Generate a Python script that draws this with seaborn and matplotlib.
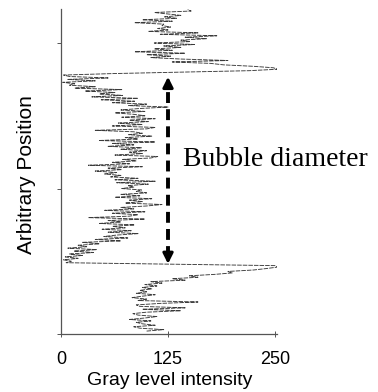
import numpy as np
import pandas as pd
import matplotlib
matplotlib.use("Agg")
import matplotlib.pyplot as plt
import seaborn as sns

# Sample positions along the scan line (arbitrary units), bottom to top
position = np.arange(1.0, 112.0, 0.5)

# Gray level intensity
gray = [
    100, 120, 92, 85, 110, 95, 88, 105, 80, 98,
    112, 90, 84, 100, 140, 95, 145, 92, 88, 115,
    160, 90, 100, 83, 95, 110, 88, 100, 92, 106,
    95, 112, 98, 118, 105, 145, 130, 160, 150, 180,
    200, 195, 225, 240, 253, 250, 125, 6, 12, 3,
    20, 5, 25, 10, 38, 15, 42, 8, 30, 20,
    45, 25, 70, 40, 78, 50, 65, 90, 55, 82,
    48, 75, 60, 86, 45, 70, 55, 98, 32, 80,
    90, 60, 98, 51, 85, 70, 100, 118, 75, 95,
    80, 106, 63, 92, 70, 100, 88, 94, 71, 85,
    78, 102, 65, 110, 63, 90, 58, 70, 51, 65,
    40, 71, 55, 95, 32, 80, 60, 88, 72, 105,
    113, 63, 95, 80, 100, 70, 94, 55, 85, 60,
    110, 44, 90, 75, 106, 79, 95, 85, 40, 100,
    110, 60, 95, 67, 102, 80, 110, 71, 98, 85,
    63, 98, 70, 92, 125, 79, 100, 60, 86, 47,
    90, 36, 72, 45, 63, 28, 71, 16, 40, 10,
    16, 2, 40, 8, 55, 10, 3, 60, 140, 220,
    253, 248, 225, 190, 175, 130, 195, 140, 105, 128,
    100, 145, 86, 130, 109, 140, 120, 156, 109, 150,
    140, 170, 145, 182, 116, 160, 102, 125, 113, 128,
    118, 120, 86, 130, 95, 135, 121, 140, 125, 109,
    152, 148,
]

x_ticks = [0, 125, 250]
x_tick_labels = ["0", "125", "250"]
y_ticks = [0, 50, 100]

df = pd.DataFrame({"gray": gray, "position": position})

sns.set_theme(style="white")
plt.rcParams["font.family"] = ["Liberation Sans", "DejaVu Sans"]

W, H = 378, 392
fig = plt.figure(figsize=(W / 100, H / 100), dpi=100)
ax = fig.add_axes([61 / W, (H - 334) / H, (277 - 61) / W, (334 - 9) / H])

sns.lineplot(data=df, x="gray", y="position", sort=False, estimator=None,
             color="#3a3a3a", lw=0.65, linestyle=(0, (5, 1.2)), ax=ax)

ax.set_xlim(0, 252.3)
ax.set_ylim(0, 111.7)
ax.set_xticks(x_ticks)
ax.set_xticklabels(x_tick_labels)
ax.set_yticks(y_ticks)
ax.set_yticklabels([])
ax.set_xlabel("")
ax.set_ylabel("")

for s in ["top", "right"]:
    ax.spines[s].set_visible(False)
for s in ["left", "bottom"]:
    ax.spines[s].set_color("#555555")
    ax.spines[s].set_linewidth(0.9)
    ax.spines[s].set_linestyle((0, (2, 1)))

ax.tick_params(axis="x", direction="inout", length=4, width=0.7, color="#555555",
               pad=10.5, labelsize=13, labelcolor="black")
ax.tick_params(axis="y", direction="out", length=3, width=0.7, color="#555555",
               left=True)
ax.tick_params(axis="x", bottom=True)

# Double-headed dashed arrow indicating bubble diameter
ax.plot([125, 125], [26.6, 85.6], color="black", lw=2.8,
        linestyle=(0, (2.8, 1.6)), solid_capstyle="butt")
ax.annotate("", xy=(125, 88.4), xytext=(125, 85.0),
            arrowprops=dict(arrowstyle="-|>,head_length=0.6,head_width=0.3",
                            color="black", lw=2.2, shrinkA=0, shrinkB=0,
                            mutation_scale=10))
ax.annotate("", xy=(125, 24.1), xytext=(125, 27.2),
            arrowprops=dict(arrowstyle="-|>,head_length=0.6,head_width=0.3",
                            color="black", lw=2.2, shrinkA=0, shrinkB=0,
                            mutation_scale=10))

fig.text(183 / W, 1 - 166 / H, "Bubble diameter", family=["Liberation Serif", "DejaVu Serif"],
         fontsize=20, ha="left", va="baseline", color="black")
fig.text(170 / W, 1 - 385 / H, "Gray level intensity", fontsize=14,
         ha="center", va="baseline", color="black")
fig.text(27 / W, 1 - 175 / H, "Arbitrary Position", fontsize=15, rotation=90,
         ha="center", va="center", color="black")

fig.savefig("out.png", dpi=100)
